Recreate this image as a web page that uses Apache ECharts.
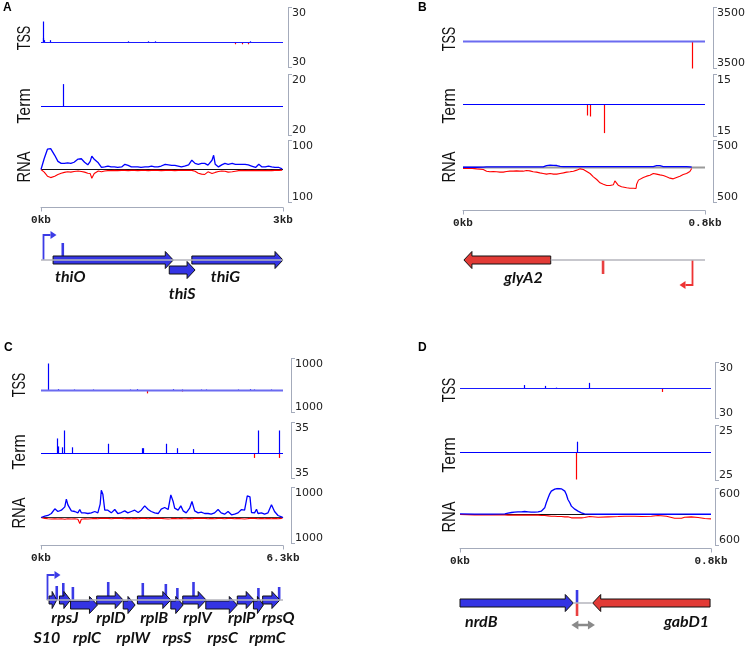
<!DOCTYPE html>
<html>
<head>
<meta charset="utf-8">
<script src="https://cdn.jsdelivr.net/npm/echarts@6/dist/echarts.min.js"></script>
<style>
  html, body { margin: 0; padding: 0; background: #fff; }
  #chart { width: 747px; height: 650px; }
</style>
</head>
<body>
<div id="chart"></div>
<script>
// ---------- panel A : thiO / thiS / thiG (0 - 3 kb)
var aTickLabels = [30, 20, 100];
var aTss = [[0.02, 18], [0.03, 4], [0.04, 2], [0.11, 2], [1.08, 1], [1.33, 1], [1.41, 1], [2.59, 1], [2.40, -1.5], [2.49, -1.5], [2.57, -1.5]];
var aTerm = [[0.27, 14]];
var aPos = [0.00, 0.04, 0.08, 0.12, 0.17, 0.21, 0.25, 0.29, 0.33, 0.37,
  0.41, 0.46, 0.50, 0.54, 0.58, 0.61, 0.63, 0.64, 0.66, 0.71,
  0.75, 0.79, 0.83, 0.87, 0.91, 0.95, 1.00, 1.04, 1.08, 1.12,
  1.16, 1.20, 1.24, 1.29, 1.33, 1.37, 1.41, 1.45, 1.49, 1.54,
  1.58, 1.62, 1.66, 1.70, 1.74, 1.78, 1.83, 1.87, 1.91, 1.95,
  1.99, 2.03, 2.07, 2.12, 2.14, 2.16, 2.20, 2.24, 2.28, 2.32,
  2.37, 2.41, 2.45, 2.49, 2.53, 2.57, 2.61, 2.66, 2.70, 2.74,
  2.78, 2.82, 2.86, 2.90, 2.95, 2.99];
var aPlus = [0, 38, 70, 72, 49, 28, 21, 21, 23, 21,
  25, 36, 37, 25, 16, 28, 46, 44, 35, 23,
  7, 9, 12, 9, 9, 7, 9, 18, 14, 9,
  9, 9, 7, 9, 9, 12, 9, 9, 12, 18,
  16, 14, 14, 12, 9, 12, 16, 32, 21, 18,
  21, 21, 15, 32, 49, 18, 9, 16, 21, 18,
  21, 18, 18, 18, 18, 16, 12, 7, 18, 9,
  9, 12, 9, 7, 7, 2];
var aMinus = [0, -9, -23, -28, -23, -17, -13, -10, -8, -9,
  -7, -5, -7, -9, -13, -14, -30, -35, -14, -5,
  -8, -5, -4, -4, -3, -4, -3, -3, -4, -3,
  -3, -4, -3, -3, -4, -3, -3, -3, -4, -3,
  -3, -3, -4, -3, -3, -3, -3, -3, -6, -13,
  -16, -17, -8, -14, -18, -10, -7, -5, -6, -9,
  -8, -6, -4, -3, -4, -3, -4, -3, -4, -3,
  -4, -3, -4, -3, -3, -2];
var aGeneNames = ['thiO', 'thiS', 'thiG'];
var aGeneStart = [0.15, 1.59, 1.87];
var aGeneEnd = [1.64, 1.91, 3.0];
var aGeneStrand = [1, 1, 1];
var aGeneLane = [0, 1, 0];
var aPromoters = [[0.02, 1]];
var aMarks = [[0.27, 17]];
var aSpan = [0, 3];

// ---------- panel B : glyA2 (0 - 0.8 kb)
var bTickLabels = [3500, 15, 500];
var bTss = [[0.756, -2780]];
var bTerm = [[0.41, -5.5], [0.42, -6], [0.466, -14.3]];
var bPos = [0.000, 0.023, 0.045, 0.067, 0.078, 0.089, 0.100, 0.111, 0.122, 0.133,
  0.144, 0.155, 0.166, 0.177, 0.188, 0.199, 0.210, 0.221, 0.232, 0.243,
  0.254, 0.265, 0.276, 0.288, 0.299, 0.310, 0.321, 0.332, 0.343, 0.354,
  0.365, 0.376, 0.387, 0.398, 0.409, 0.420, 0.431, 0.442, 0.453, 0.464,
  0.475, 0.486, 0.497, 0.502, 0.508, 0.513, 0.519, 0.524, 0.530, 0.541,
  0.552, 0.563, 0.572, 0.574, 0.580, 0.585, 0.596, 0.607, 0.618, 0.629,
  0.640, 0.651, 0.662, 0.673, 0.684, 0.695, 0.706, 0.717, 0.728, 0.739,
  0.750, 0.756];
var bPlus = [5, 5, 5, 6, 10, 12, 12, 12, 12, 12,
  12, 12, 12, 12, 12, 12, 12, 12, 12, 12,
  12, 12, 35, 43, 40, 37, 20, 18, 18, 18,
  18, 18, 18, 18, 18, 18, 18, 18, 18, 18,
  18, 18, 18, 18, 18, 18, 18, 18, 18, 18,
  18, 18, 18, 18, 18, 18, 18, 18, 18, 18,
  35, 35, 18, 18, 18, 18, 18, 18, 18, 18,
  12, 5];
var bMinus = [-19, -12, -25, -37, -68, -80, -74, -80, -86, -86,
  -74, -68, -68, -62, -68, -68, -56, -62, -80, -86,
  -99, -111, -123, -111, -123, -123, -111, -99, -86, -80,
  -68, -49, -25, -37, -74, -111, -173, -222, -284, -309,
  -333, -333, -321, -247, -247, -327, -333, -358, -358, -376,
  -383, -383, -389, -309, -234, -204, -185, -160, -142, -111,
  -123, -136, -148, -173, -197, -210, -185, -160, -130, -111,
  -74, -19];
var bGeneNames = ['glyA2'];
var bGeneStart = [0.003];
var bGeneEnd = [0.29];
var bGeneStrand = [-1];
var bGeneLane = [0];
var bPromoters = [[0.756, -1]];
var bMarks = [[0.463, -14]];
var bSpan = [0.29, 0.8];

// ---------- panel C : S10 operon (0 - 6.3 kb)
var cTickLabels = [1000, 35, 1000];
var cTss = [[0.19, 844], [0.44, 40], [0.86, 30], [1.35, 30], [2.32, 30], [2.50, 40], [3.44, 40], [3.67, 30],
  [4.17, 30], [4.30, 30], [5.13, 30], [5.44, 40], [5.55, 30], [5.99, 30], [2.75, -90], [3.67, -30]];
var cTerm = [[0.41, 17], [0.43, 8], [0.55, 7], [0.59, 26], [0.82, 7], [1.75, 11], [2.64, 6], [2.66, 6],
  [3.25, 11], [3.55, 6], [3.97, 5], [5.66, 26], [6.19, 26], [5.55, -5], [6.19, -5]];
var cPos = [0, 0.10, 0.18, 0.27, 0.36, 0.44, 0.53, 0.62, 0.66, 0.70,
  0.79, 0.88, 0.96, 1.01, 1.05, 1.14, 1.22, 1.31, 1.40, 1.48,
  1.54, 1.57, 1.61, 1.66, 1.74, 1.83, 1.92, 2.00, 2.09, 2.18,
  2.26, 2.35, 2.44, 2.53, 2.61, 2.70, 2.79, 2.87, 2.96, 3.05,
  3.13, 3.22, 3.31, 3.38, 3.44, 3.48, 3.57, 3.64, 3.70, 3.78,
  3.87, 3.93, 4.00, 4.09, 4.17, 4.26, 4.35, 4.43, 4.52, 4.61,
  4.69, 4.78, 4.87, 4.96, 5.04, 5.13, 5.22, 5.30, 5.37, 5.41,
  5.44, 5.48, 5.56, 5.61, 5.65, 5.74, 5.82, 5.91, 6.00, 6.04,
  6.08, 6.17, 6.26, 6.30];
var cPlus = [0, 44, 67, 133, 289, 200, 244, 355, 611, 422,
  222, 200, 155, 266, 155, 155, 133, 155, 200, 155,
  444, 910, 777, 244, 244, 155, 266, 133, 166, 222,
  155, 200, 244, 166, 244, 388, 266, 200, 155, 133,
  277, 333, 266, 755, 533, 311, 244, 388, 222, 155,
  311, 533, 222, 155, 177, 133, 133, 111, 155, 266,
  155, 111, 200, 89, 111, 155, 266, 244, 722, 755,
  688, 166, 155, 277, 133, 155, 111, 155, 422, 422,
  200, 67, 22, 0];
var cMinus = [0, -30, -40, -50, -40, -50, -40, -60, -50, -40,
  -50, -40, -60, -200, -60, -40, -50, -40, -30, -40,
  -30, -40, -30, -40, -30, -40, -30, -30, -30, -40,
  -30, -40, -30, -40, -30, -30, -40, -30, -30, -30,
  -30, -40, -50, -40, -30, -30, -40, -30, -40, -40,
  -30, -40, -30, -30, -30, -30, -40, -30, -40, -30,
  -30, -40, -30, -30, -40, -30, -40, -50, -40, -40,
  -30, -40, -30, -30, -40, -30, -40, -30, -40, -40,
  -30, -40, -30, 0];
var cGeneNames = ['S10', 'rpsJ', 'rplC', 'rplD', 'rplW', 'rplB', 'rpsS', 'rplV', 'rpsC', 'rplP', 'rpmC', 'rpsQ'];
var cGeneStart = [0.21, 0.48, 0.77, 1.45, 2.14, 2.51, 3.38, 3.69, 4.29, 5.11, 5.53, 5.77];
var cGeneEnd = [0.41, 0.77, 1.47, 2.14, 2.45, 3.38, 3.70, 4.30, 5.11, 5.55, 5.79, 6.22];
var cGeneStrand = [1, 1, 1, 1, 1, 1, 1, 1, 1, 1, 1, 1];
var cGeneLane = [0, 0, 1, 0, 1, 0, 1, 0, 1, 0, 1, 0];
var cPromoters = [[0.15, 1]];
var cMarks = [[0.41, 14], [0.58, 17], [0.83, 13], [1.75, 18], [2.65, 17], [3.25, 16], [3.55, 12], [3.97, 18], [5.66, 12], [6.20, 13]];
var cSpan = [0.15, 6.3];

// ---------- panel D : nrdB / gabD1 (0 - 0.8 kb)
var dTickLabels = [30, 25, 600];
var dTss = [[0.205, 4], [0.27, 3], [0.305, 1], [0.41, 6.5], [0.643, -4]];
var dTerm = [[0.374, 10], [0.371, -25]];
var dPos = [0.000, 0.047, 0.100, 0.143, 0.153, 0.164, 0.174, 0.185, 0.196, 0.206,
  0.217, 0.227, 0.238, 0.249, 0.259, 0.270, 0.275, 0.281, 0.286, 0.291,
  0.302, 0.312, 0.323, 0.334, 0.339, 0.344, 0.350, 0.355, 0.366, 0.376,
  0.387, 0.397, 0.413, 0.419, 0.440, 0.472, 0.504, 0.525, 0.557, 0.578,
  0.610, 0.631, 0.658, 0.663, 0.684, 0.706, 0.716, 0.737, 0.759, 0.780,
  0.800];
var dPlus = [15, 8, 8, 15, 31, 46, 54, 62, 62, 69,
  62, 54, 54, 62, 77, 154, 270, 385, 477, 539,
  585, 600, 593, 539, 462, 347, 270, 193, 123, 77,
  39, 15, 8, 8, 6, 6, 6, 6, 6, 6,
  6, 6, 6, 6, 6, 8, 8, 6, 6, 6,
  6];
var dMinus = [0, -8, -8, -8, -15, -15, -15, -15, -15, -15,
  -15, -15, -15, -15, -23, -23, -23, -31, -31, -39,
  -39, -46, -46, -54, -54, -54, -77, -77, -77, -77,
  -77, -69, -46, -77, -62, -54, -46, -39, -39, -46,
  -39, -23, -39, -77, -85, -85, -62, -54, -69, -92,
  -100];
var dGeneNames = ['nrdB', 'gabD1'];
var dGeneStart = [0, 0.423];
var dGeneEnd = [0.361, 0.797];
var dGeneStrand = [1, -1];
var dGeneLane = [0, 0];
var dPromoters = [];
var dMarks = [[0.373, 13], [0.373, -13]];
var dGap = [[0.355, 0.43]];
var dSpan = [0.36, 0.42];

// ---------- layout / styles
var BLUE = '#0000ff', RED = '#ff0000';
var GENE_BLUE = '#3434e4', GENE_RED = '#e23b36';
var AXIS_GRAY = '#a4abbb';
var TRACK_NAMES = ['TSS', 'Term', 'RNA'];
var TRACK_SCALE = [0.7, 0.88, 0.82];

var PANELS = [
  { letter: 'A', letterXY: [3, 8], left: 41, right: 283, axisX: 288, kbMax: 3,
    tracks: [[7, 42, 67], [74, 106, 135], [140, 169, 202]], xAxisY: 207, geneY: 260,
    labelX: 25, labelY: [38, 106, 167], tss: [1.2, '#1a1aff'], zero: [1, '#111'], laneGap: 10,
    ticks: aTickLabels, tssData: aTss, termData: aTerm, pos: aPos, plus: aPlus, minus: aMinus,
    names: aGeneNames, start: aGeneStart, end: aGeneEnd, strand: aGeneStrand, lane: aGeneLane,
    promoters: aPromoters, marks: aMarks, span: aSpan, gap: [] },
  { letter: 'B', letterXY: [418, 8], left: 463, right: 705, axisX: 713, kbMax: 0.8,
    tracks: [[7, 41, 68], [74, 104, 136], [140, 167, 202]], xAxisY: 210, geneY: 260,
    labelX: 450, labelY: [39, 106, 167], tss: [2.2, '#6b6bf0'], zero: [2, '#9a9a9a'], laneGap: 0,
    ticks: bTickLabels, tssData: bTss, termData: bTerm, pos: bPos, plus: bPlus, minus: bMinus,
    names: bGeneNames, start: bGeneStart, end: bGeneEnd, strand: bGeneStrand, lane: bGeneLane,
    promoters: bPromoters, marks: bMarks, span: bSpan, gap: [] },
  { letter: 'C', letterXY: [4, 348], left: 41, right: 283, axisX: 291, kbMax: 6.3,
    tracks: [[358, 390, 412], [422, 453, 478], [487, 517, 543]], xAxisY: 545, geneY: 600,
    labelX: 20, labelY: [385, 452, 513], tss: [2.2, '#6b6bf0'], zero: [1, '#333'], laneGap: 5,
    ticks: cTickLabels, tssData: cTss, termData: cTerm, pos: cPos, plus: cPlus, minus: cMinus,
    names: cGeneNames, start: cGeneStart, end: cGeneEnd, strand: cGeneStrand, lane: cGeneLane,
    promoters: cPromoters, marks: cMarks, span: cSpan, gap: [] },
  { letter: 'D', letterXY: [418, 348], left: 460, right: 711, axisX: 715, kbMax: 0.8,
    tracks: [[362, 388, 418], [425, 452, 480], [488, 514, 545]], xAxisY: 548, geneY: 603,
    labelX: 450, labelY: [390, 455, 517], tss: [1.2, '#1a1aff'], zero: [1, '#111'], laneGap: 0,
    ticks: dTickLabels, tssData: dTss, termData: dTerm, pos: dPos, plus: dPlus, minus: dMinus,
    names: dGeneNames, start: dGeneStart, end: dGeneEnd, strand: dGeneStrand, lane: dGeneLane,
    promoters: dPromoters, marks: dMarks, span: dSpan, gap: dGap }
];

// where each gene name sits relative to its arrow
var GENE_LABELS = {
  thiO: { anchor: 'start', align: 'left', dx: 2, dy: 17 },
  thiS: { anchor: 'mid', align: 'center', dx: 0, dy: 34 },
  thiG: { anchor: 'mid', align: 'center', dx: -12, dy: 17 },
  glyA2: { anchor: 'mid', align: 'center', dx: 16, dy: 18 },
  S10: { anchor: 'mid', align: 'center', dx: -6, dy: 38 },
  rpsJ: { anchor: 'mid', align: 'center', dx: 0, dy: 18 },
  rplC: { anchor: 'mid', align: 'center', dx: 3, dy: 38 },
  rplD: { anchor: 'mid', align: 'center', dx: 1, dy: 18 },
  rplW: { anchor: 'mid', align: 'center', dx: 4, dy: 38 },
  rplB: { anchor: 'mid', align: 'center', dx: 0, dy: 18 },
  rpsS: { anchor: 'mid', align: 'center', dx: 0, dy: 38 },
  rplV: { anchor: 'mid', align: 'center', dx: 3, dy: 18 },
  rpsC: { anchor: 'mid', align: 'center', dx: 1, dy: 38 },
  rplP: { anchor: 'mid', align: 'center', dx: -4, dy: 18 },
  rpmC: { anchor: 'mid', align: 'center', dx: 9, dy: 38 },
  rpsQ: { anchor: 'mid', align: 'center', dx: 7, dy: 18 },
  nrdB: { anchor: 'start', align: 'left', dx: 5, dy: 19 },
  gabD1: { anchor: 'end', align: 'right', dx: -1, dy: 19 }
};

function crisp(x) { return Math.round(x) + 0.5; }

function spikeItem(params, api) {
  var v = api.value(1);
  var p = api.coord([api.value(0), 0]);
  var q = api.coord([api.value(0), v]);
  var x = crisp(p[0]);
  return { type: 'line', shape: { x1: x, y1: p[1], x2: x, y2: q[1] },
    style: { stroke: v >= 0 ? BLUE : RED, lineWidth: 1.2 } };
}

function markItem(params, api) {
  var v = api.value(1);
  var p = api.coord([api.value(0), 0]);
  var q = api.coord([api.value(0), v]);
  return { type: 'line', shape: { x1: p[0], y1: p[1], x2: p[0], y2: q[1] },
    style: { stroke: v >= 0 ? '#3a3ae6' : '#e84040', lineWidth: 2.6 } };
}

function promoterItem(params, api) {
  var dir = api.value(1);
  var p = api.coord([api.value(0), 0]);
  var x = crisp(p[0]), y0 = p[1], y1 = y0 - dir * 25, x2 = x + dir * 7;
  var col = dir > 0 ? '#3c3ce6' : '#ee3333';
  return { type: 'group', children: [
    { type: 'polyline', shape: { points: [[x, y0], [x, y1], [x2, y1]] }, style: { stroke: col, lineWidth: 1.8, fill: null } },
    { type: 'polygon', shape: { points: [[x2 + dir * 6, y1], [x2, y1 - 4], [x2, y1 + 4]] }, style: { fill: col } }
  ] };
}

function gapItem(params, api) {
  var a = api.coord([api.value(0), 0]), b = api.coord([api.value(1), 0]);
  var y = a[1] + 22, col = '#8a8a8a';
  return { type: 'group', children: [
    { type: 'line', shape: { x1: a[0] + 5, y1: y, x2: b[0] - 5, y2: y }, style: { stroke: col, lineWidth: 2.5 } },
    { type: 'polygon', shape: { points: [[a[0], y], [a[0] + 7, y - 4.5], [a[0] + 7, y + 4.5]] }, style: { fill: col } },
    { type: 'polygon', shape: { points: [[b[0], y], [b[0] - 7, y - 4.5], [b[0] - 7, y + 4.5]] }, style: { fill: col } }
  ] };
}

function geneRenderer(P) {
  return function (params, api) {
    var s = api.value(0), e = api.value(1), strand = api.value(2), lane = api.value(3);
    var a = api.coord([s, 0]), b = api.coord([e, 0]);
    var x1 = a[0], x2 = b[0], yc = a[1] + lane * P.laneGap;
    var hl = Math.min(8, (x2 - x1) * 0.6), bh = 4, hh = 8.5;
    var pts = strand > 0
      ? [[x1, yc - bh], [x2 - hl, yc - bh], [x2 - hl, yc - hh], [x2, yc], [x2 - hl, yc + hh], [x2 - hl, yc + bh], [x1, yc + bh]]
      : [[x2, yc - bh], [x1 + hl, yc - bh], [x1 + hl, yc - hh], [x1, yc], [x1 + hl, yc + hh], [x1 + hl, yc + bh], [x2, yc + bh]];
    var name = P.names[params.dataIndex];
    var lay = GENE_LABELS[name];
    var ax = lay.anchor === 'start' ? x1 : (lay.anchor === 'end' ? x2 : (x1 + x2) / 2);
    return { type: 'group', children: [
      { type: 'polygon', shape: { points: pts },
        style: { fill: strand > 0 ? GENE_BLUE : GENE_RED, stroke: '#111', lineWidth: 1 } },
      { type: 'text', x: ax + lay.dx, y: a[1] + lay.dy,
        style: { text: name, fill: '#111', font: 'italic bold 16px Lato, "Open Sans", sans-serif',
          align: lay.align, verticalAlign: 'middle', textAlign: lay.align, textVerticalAlign: 'middle' } }
    ] };
  };
}

var option = {
  animation: false,
  backgroundColor: '#fff',
  grid: [], xAxis: [], yAxis: [], series: [],
  graphic: { elements: [] }
};

PANELS.forEach(function (P) {
  P.tracks.forEach(function (t, ti) {
    var g = option.grid.length;
    var max = P.ticks[ti];
    var min = -max * (t[2] - t[1]) / (t[1] - t[0]);
    var isRna = ti === 2;
    // half-pixel shift keeps the zero lines crisp
    option.grid.push({ left: P.left, top: t[0] + 0.5, width: P.right - P.left, height: t[2] - t[0], outerBoundsMode: 'none' });
    option.xAxis.push({
      gridIndex: g, type: 'value', min: 0, max: P.kbMax, show: isRna, position: 'bottom',
      offset: isRna ? P.xAxisY - t[2] : 0,
      axisLine: { show: true, onZero: false, lineStyle: { color: AXIS_GRAY, width: 1 } },
      axisTick: { show: true, customValues: [0, P.kbMax], length: 4, lineStyle: { color: AXIS_GRAY } },
      axisLabel: { show: true, customValues: [0, P.kbMax], formatter: function (v) { return v + 'kb'; },
        margin: 7, fontFamily: 'Liberation Mono', fontWeight: 'bold', fontSize: 11, color: '#222' },
      splitLine: { show: false }
    });
    option.yAxis.push({
      gridIndex: g, type: 'value', min: min, max: max, position: 'right', offset: P.axisX - P.right,
      axisLine: { show: true, onZero: false, lineStyle: { color: AXIS_GRAY, width: 1 } },
      axisTick: { show: true, customValues: [min, max], length: 4, lineStyle: { color: AXIS_GRAY } },
      axisLabel: { show: true, customValues: [min, max], formatter: function () { return String(max); },
        margin: 4, fontFamily: 'DejaVu Sans', fontSize: 11, color: '#222',
        verticalAlignMaxLabel: 'top', verticalAlignMinLabel: 'bottom' },
      splitLine: { show: false }
    });
    if (!isRna) {
      option.series.push({ type: 'line', xAxisIndex: g, yAxisIndex: g, data: [[0, 0], [P.kbMax, 0]],
        symbol: 'none', silent: true,
        lineStyle: { color: ti === 0 ? P.tss[1] : BLUE, width: ti === 0 ? P.tss[0] : 1.2 } });
      option.series.push({ type: 'custom', xAxisIndex: g, yAxisIndex: g, encode: { x: 0, y: 1 },
        data: ti === 0 ? P.tssData : P.termData, renderItem: spikeItem, silent: true });
    } else {
      option.series.push({ type: 'line', xAxisIndex: g, yAxisIndex: g, data: [[0, 0], [P.kbMax, 0]],
        symbol: 'none', silent: true, lineStyle: { color: P.zero[1], width: P.zero[0] } });
      option.series.push({ type: 'line', xAxisIndex: g, yAxisIndex: g, symbol: 'none', silent: true,
        data: P.pos.map(function (x, i) { return [x, P.minus[i]]; }),
        lineStyle: { color: RED, width: 1.1 } });
      option.series.push({ type: 'line', xAxisIndex: g, yAxisIndex: g, symbol: 'none', silent: true,
        data: P.pos.map(function (x, i) { return [x, P.plus[i]]; }),
        lineStyle: { color: BLUE, width: 1.3 } });
    }
  });

  // gene map below the tracks (1 y-unit = 1 px)
  var gg = option.grid.length;
  option.grid.push({ left: P.left, top: P.geneY - 30, width: P.right - P.left, height: 60, outerBoundsMode: 'none' });
  option.xAxis.push({ gridIndex: gg, type: 'value', min: 0, max: P.kbMax, show: false });
  option.yAxis.push({ gridIndex: gg, type: 'value', min: -30, max: 30, show: false });
  option.series.push({ type: 'line', xAxisIndex: gg, yAxisIndex: gg, data: [[P.span[0], 0], [P.span[1], 0]],
    symbol: 'none', silent: true, lineStyle: { color: '#b4b4bc', width: 1.3 } });
  option.series.push({ type: 'custom', xAxisIndex: gg, yAxisIndex: gg, encode: { x: 0, y: 1 },
    data: P.marks, renderItem: markItem, silent: true });
  option.series.push({ type: 'custom', xAxisIndex: gg, yAxisIndex: gg, encode: { x: 0, y: 1 },
    data: P.promoters, renderItem: promoterItem, silent: true });
  option.series.push({ type: 'custom', xAxisIndex: gg, yAxisIndex: gg, encode: { x: [0, 1] },
    data: P.names.map(function (n, i) { return [P.start[i], P.end[i], P.strand[i], P.lane[i]]; }),
    renderItem: geneRenderer(P), silent: true });
  if (P.gap.length) {
    option.series.push({ type: 'custom', xAxisIndex: gg, yAxisIndex: gg, encode: { x: [0, 1] },
      data: P.gap, renderItem: gapItem, silent: true });
  }

  // panel letter and rotated track names
  option.graphic.elements.push({ type: 'text', x: P.letterXY[0], y: P.letterXY[1],
    style: { text: P.letter, font: 'bold 12px "Liberation Sans", Arial', fill: '#000',
      verticalAlign: 'middle', textVerticalAlign: 'middle' } });
  TRACK_NAMES.forEach(function (name, i) {
    option.graphic.elements.push({ type: 'text', x: P.labelX, y: P.labelY[i], rotation: Math.PI / 2, scaleX: TRACK_SCALE[i],
      style: { text: name, font: '18px "Liberation Sans", Arial', fill: '#111',
        align: 'center', verticalAlign: 'middle', textAlign: 'center', textVerticalAlign: 'middle' } });
  });
});

var myChart = echarts.init(document.getElementById('chart'));
myChart.setOption(option);
window.addEventListener('resize', function () {
  myChart.resize();
});
</script>
</body>
</html>
